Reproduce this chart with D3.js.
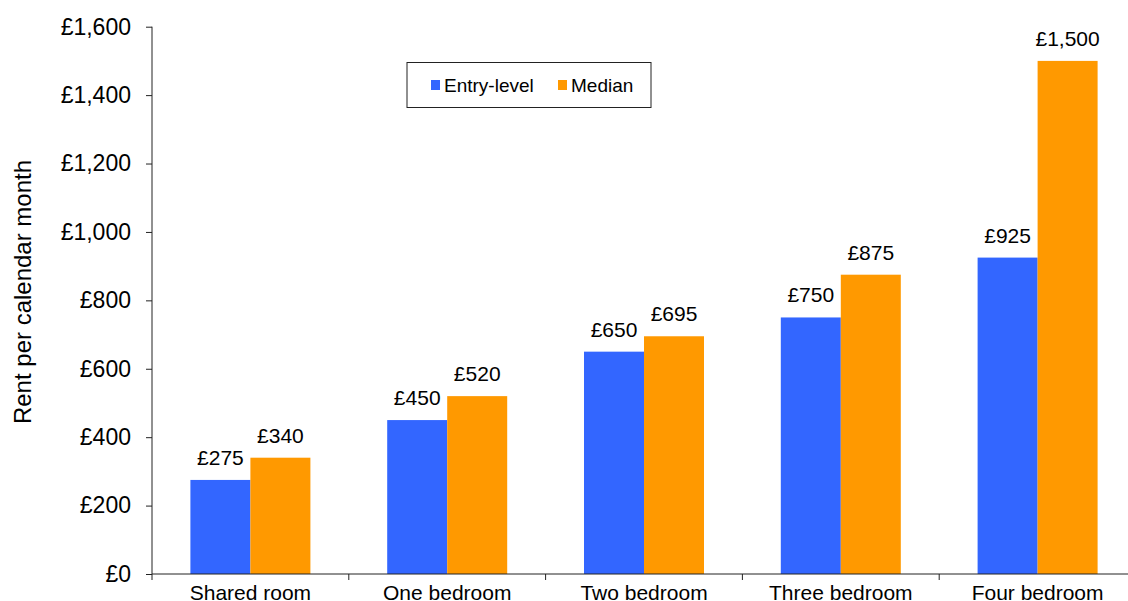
<!DOCTYPE html>
<html>
<head>
<meta charset="utf-8">
<script src="https://cdn.jsdelivr.net/npm/d3@7"></script>
<style>
  body { margin: 0; background: #fff; }
  text { font-family: "Liberation Sans", Arial, sans-serif; fill: #000; }
</style>
</head>
<body>
<svg id="chart" width="1128" height="601"></svg>
<script>
// data
var categories = ["Shared room", "One bedroom", "Two bedroom", "Three bedroom", "Four bedroom"];
var seriesNames = ["Entry-level", "Median"];
var entryLevel = [275, 450, 650, 750, 925];
var median = [340, 520, 695, 875, 1500];
var yTicks = [0, 200, 400, 600, 800, 1000, 1200, 1400, 1600];

var colors = ["#3366ff", "#ff9900"];

var svg = d3.select("#chart");

var x0 = 152, x1 = 1136, yTop = 26.7, yBase = 574;

var xScale = d3.scaleBand()
    .domain(categories)
    .range([x0, x1])
    .paddingInner(0)
    .paddingOuter(0);

var xInner = d3.scaleBand()
    .domain(seriesNames)
    .range([0, 120]);

var yScale = d3.scaleLinear()
    .domain([0, 1600])
    .range([yBase, yTop]);

var fmt = function(v){ return "£" + d3.format(",")(v); };

var rows = categories.map(function(c, i){
    return { cat: c, values: [entryLevel[i], median[i]] };
});

// bars
var groups = svg.selectAll(".grp")
    .data(rows)
    .enter().append("g")
    .attr("class", "grp")
    .attr("transform", function(d){
        return "translate(" + (xScale(d.cat) + xScale.bandwidth()/2 - 60) + ",0)";
    });

groups.selectAll("rect")
    .data(function(d){ return d.values; })
    .enter().append("rect")
    .attr("x", function(d, i){ return xInner(seriesNames[i]); })
    .attr("width", xInner.bandwidth())
    .attr("y", function(d){ return yScale(d); })
    .attr("height", function(d){ return yBase - yScale(d); })
    .attr("fill", function(d, i){ return colors[i]; });

groups.selectAll(".lbl")
    .data(function(d){ return d.values; })
    .enter().append("text")
    .attr("class", "lbl")
    .attr("x", function(d, i){ return xInner(seriesNames[i]) + xInner.bandwidth()/2; })
    .attr("y", function(d){ return yScale(d) - 15; })
    .attr("text-anchor", "middle")
    .style("font-size", "21px")
    .text(fmt);

// y axis
var yAxis = d3.axisLeft(yScale)
    .tickValues(yTicks)
    .tickFormat(fmt)
    .tickSize(6)
    .tickPadding(15);

var gy = svg.append("g")
    .attr("transform", "translate(" + x0 + ",0)")
    .call(yAxis);
gy.select(".domain").attr("stroke", "#222").attr("d", "M0," + yTop + "V" + yBase);
gy.selectAll(".tick line").attr("stroke", "#222");
gy.selectAll(".tick text").style("font-size", "23px").attr("fill", "#000");

// x axis
var xAxis = d3.axisBottom(xScale).tickSize(0).tickPadding(11);
var gx = svg.append("g")
    .attr("transform", "translate(0," + yBase + ")")
    .call(xAxis);
gx.select(".domain").attr("stroke", "#222").attr("d", "M" + x0 + ",0H" + x1);
gx.selectAll(".tick text").style("font-size", "21px").attr("fill", "#000");

// category separators
gx.selectAll(".sep")
    .data(categories)
    .enter().append("line")
    .attr("class", "sep")
    .attr("x1", function(d){ return xScale(d); })
    .attr("x2", function(d){ return xScale(d); })
    .attr("y1", 0)
    .attr("y2", 6)
    .attr("stroke", "#222");

// y title
svg.append("text")
    .attr("transform", "translate(31,292) rotate(-90)")
    .attr("text-anchor", "middle")
    .style("font-size", "24px")
    .text("Rent per calendar month");

// legend
var legend = svg.append("g").attr("transform", "translate(407,62.5)");
legend.append("rect")
    .attr("width", 244)
    .attr("height", 45)
    .attr("fill", "#fff")
    .attr("stroke", "#222")
    .attr("stroke-width", 1);

var legX = [24, 151];
seriesNames.forEach(function(s, i){
    legend.append("rect")
        .attr("x", legX[i])
        .attr("y", 17.5)
        .attr("width", 9)
        .attr("height", 10)
        .attr("fill", colors[i]);
    legend.append("text")
        .attr("x", legX[i] + 13)
        .attr("y", 29)
        .style("font-size", "19px")
        .text(s);
});
</script>
</body>
</html>
